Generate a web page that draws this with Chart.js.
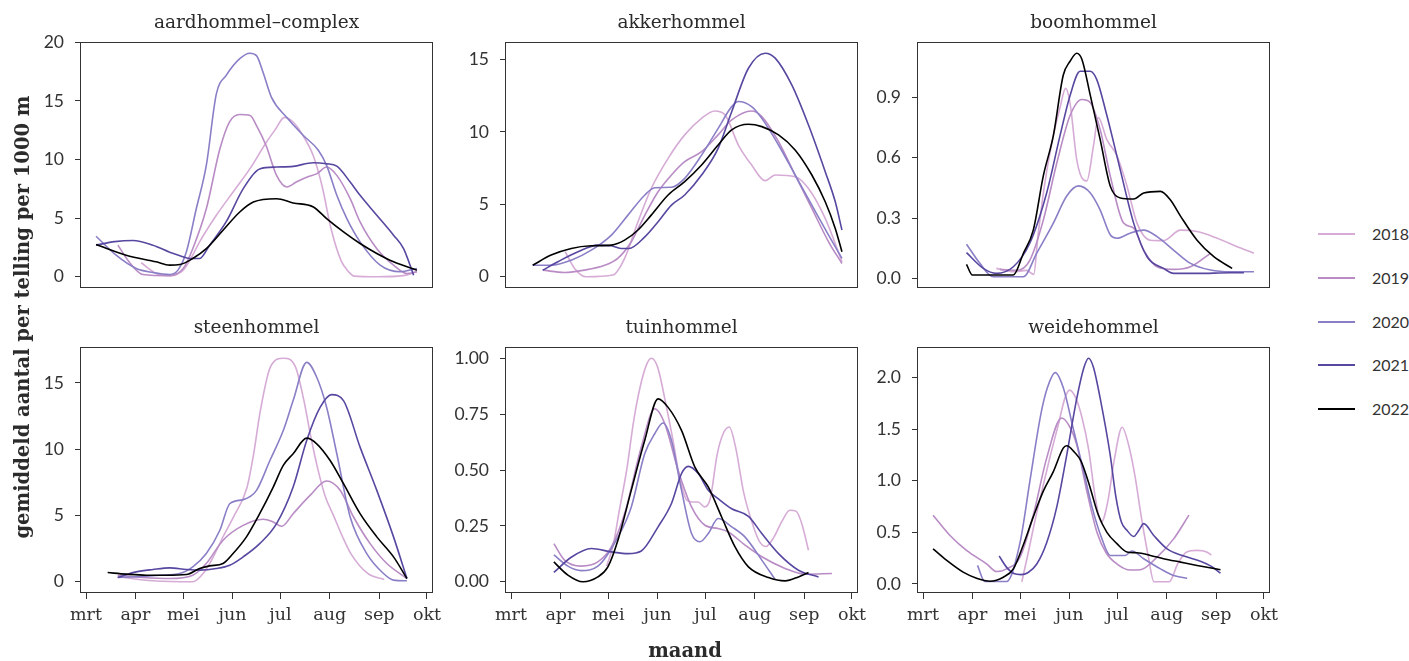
<!DOCTYPE html>
<html>
<head>
<meta charset="utf-8">
<title>hommels per maand</title>
<script src="https://cdn.jsdelivr.net/npm/chart.js@4.4.1/dist/chart.umd.min.js"></script>
<style>
  body { margin: 0; background: #fff; }
  #page { position: relative; width: 1409px; height: 661px; overflow: hidden; background: #fff; }
  #page canvas { position: absolute; }
  .ptitle { position: absolute; text-align: center; font-family: 'DejaVu Serif'; font-size: 18.5px; line-height: 22px; color: #2b2b2b; white-space: nowrap; }
  .axtitle { position: absolute; text-align: center; font-family: 'DejaVu Serif'; font-weight: bold; font-size: 19.5px; line-height: 24px; color: #2b2b2b; white-space: nowrap; }
  .legline { position: absolute; height: 0; border-top: 2px solid; width: 37px; }
  .legtext { position: absolute; font-family: 'Lato'; font-size: 16px; line-height: 18px; color: #333; }
</style>
</head>
<body>
<div id="page"></div>
<script>
// --- data (days counted from 1 March) ---
const years = ['2018', '2019', '2020', '2021', '2022'];
const species = ['aardhommel–complex', 'akkerhommel', 'boomhommel', 'steenhommel', 'tuinhommel', 'weidehommel'];
const monthLabels = ['mrt', 'apr', 'mei', 'jun', 'jul', 'aug', 'sep', 'okt'];
const monthDays = [0, 31, 61, 92, 122, 153, 184, 214];
const yTickLabels = [
    ['0', '5', '10', '15', '20'],
    ['0', '5', '10', '15'],
    ['0.0', '0.3', '0.6', '0.9'],
    ['0', '5', '10', '15'],
    ['0.00', '0.25', '0.50', '0.75', '1.00'],
    ['0.0', '0.5', '1.0', '1.5', '2.0']
];

// one list per year: [day, mean count]
const aardhommel = [
    [[34.6,1.2],[44,0.28],[52.5,0.1],[61,0.57],[66,1.6],[71.3,2.98],[81.8,5.25],[92.3,7.23],[102.8,9.2],[113.3,11.5],[119,12.6],[124.5,13.6],[130,13.2],[135,12.3],[142.7,10.3],[148.4,7.6],[153.6,4.2],[160,1.4],[165,0.4],[168.3,0.06],[182.5,0],[199,0.1],[207.7,0.43]],
    [[20,2.7],[27,1.28],[35.7,0.2],[52.5,0.1],[61,0.7],[67,2.4],[75.5,5.8],[84,10.9],[90,13.2],[96.5,13.84],[103,13.76],[107,12.9],[113,11.2],[119.6,8.65],[126,7.66],[132,8.08],[138.5,8.5],[145,8.8],[151,9.36],[157.4,8.65],[165.8,6.66],[172,4.68],[182.5,2.4],[193,1.0],[201.4,0.28],[207.7,0.43]],
    [[6.3,3.46],[18.9,1.84],[31.5,0.71],[42,0.37],[52.5,0.2],[57.7,0.57],[63,2.13],[69.2,5.8],[75.5,9.5],[81.8,15.6],[88.1,17.2],[96.5,18.6],[102.8,19.07],[107,18.86],[111.2,17.4],[116.4,15.3],[125.9,13.6],[136.4,12.05],[145.8,10.8],[151,9.5],[157.4,6.95],[163.7,4.96],[172,2.98],[184.6,1.0],[197.2,0.43],[207.7,0.71]],
    [[6.3,2.7],[18,3.0],[29.4,3.1],[42,2.7],[52.5,2.1],[59,1.8],[65,1.56],[71.3,1.56],[77.6,2.7],[88,4.7],[98.6,7.5],[109,9.2],[119.6,9.36],[130,9.42],[142.7,9.73],[151,9.64],[157.4,9.44],[165.8,8.08],[172,6.95],[182.5,5.25],[193,3.55],[199.3,2.4],[205.6,0.14]],
    [[6.3,2.75],[25.2,1.84],[44,1.28],[52.5,1.0],[59,1.05],[67,1.56],[75.5,2.4],[86,3.97],[96.5,5.53],[105,6.38],[119.6,6.66],[130,6.3],[142.7,5.96],[151,4.96],[161.6,3.83],[172,2.84],[182.5,1.99],[193,1.28],[207.7,0.57]]
];

const akkerhommel = [
    [[34,1.73],[39.9,0.58],[47.2,0],[64,0.12],[71.3,1.27],[79.7,3.8],[88,6.1],[98.6,8.18],[109,9.8],[119.6,10.94],[127.9,11.45],[134.3,11.18],[142.7,9.1],[151,7.72],[159.5,6.64],[165.8,7.03],[178.3,6.91],[186.7,6.1],[197.2,4.03],[207.7,1.04]],
    [[19.9,0.46],[33.6,0.3],[46,0.46],[58.8,0.8],[67,1.27],[75.5,2.42],[84,4.26],[92.3,5.87],[100.7,7.03],[109,7.95],[119.6,8.64],[130,9.8],[138.5,10.83],[151,11.45],[157.4,11.06],[167.9,9.33],[178.3,7.03],[188.8,4.72],[199.3,2.42],[207.7,0.92]],
    [[13.6,0.8],[25.2,0.8],[37.8,1.15],[50.4,1.84],[63,2.88],[73.4,4.26],[84,5.65],[90.2,6.15],[100.7,6.18],[109,6.8],[119.6,8.4],[130,10.25],[138.5,11.75],[142.7,12.1],[151,11.75],[157.4,10.94],[167.9,9.1],[178.3,7.03],[188.8,4.95],[199.3,2.88],[207.7,1.27]],
    [[19.9,0.46],[29.4,1.04],[42,1.73],[54.5,2.19],[63,2.14],[69,1.96],[74,1.96],[84,2.76],[92.3,3.8],[100.7,4.95],[109,5.65],[119.6,7.03],[130,8.87],[138.5,11.4],[149,14.4],[159.5,15.44],[165.8,15.1],[176.2,13.25],[186.7,10.48],[197.2,7.26],[203.5,5.18],[207.7,3.23]],
    [[13.6,0.8],[25.2,1.5],[37.8,1.96],[50.4,2.14],[63,2.19],[71.3,2.53],[79.7,3.23],[88,4.26],[98.6,5.65],[109,6.57],[119.6,7.72],[130,9.1],[138.5,10.14],[149,10.53],[157.4,10.37],[167.9,9.8],[178.3,8.76],[188.8,7.03],[197.2,5.18],[203.5,3.34],[207.7,1.73]]
];

const boomhommel = [
    [[46,0.05],[56.7,0.033],[65,0.04],[69.5,0.02],[72,0.2],[76,0.45],[81,0.68],[86,0.85],[89.5,0.945],[92.3,0.87],[96.5,0.59],[100.7,0.49],[102.8,0.485],[107,0.66],[110,0.8],[115.4,0.69],[121.7,0.61],[128,0.46],[134.3,0.275],[142.7,0.19],[151,0.188],[161.6,0.24],[172,0.233],[184.6,0.2],[197.2,0.158],[207.7,0.125]],
    [[48.3,0.045],[58.8,0.04],[67,0.09],[75.5,0.29],[84,0.575],[92.3,0.81],[99.7,0.89],[104.9,0.875],[111.2,0.74],[117.5,0.51],[125.9,0.275],[132.2,0.25],[138.5,0.14],[146.9,0.058],[157.4,0.045],[167.9,0.058],[180.4,0.125]],
    [[27.3,0.17],[35.7,0.075],[44,0.008],[63,0.008],[71.3,0.125],[81.8,0.275],[90.2,0.41],[97.6,0.46],[105,0.425],[111.2,0.34],[117.5,0.217],[121.7,0.2],[130,0.225],[138.5,0.24],[146.9,0.208],[157.4,0.14],[167.9,0.075],[180.4,0.042],[193,0.033],[207.7,0.033]],
    [[27.3,0.128],[37.8,0.05],[46,0.025],[56.7,0.058],[67,0.175],[77.6,0.425],[86,0.71],[92.3,0.91],[98.6,1.03],[104.9,1.03],[109,0.99],[115.4,0.81],[123.8,0.54],[132.2,0.275],[140.6,0.108],[151,0.05],[157.4,0.025],[172,0.025],[193,0.028],[201.4,0.028]],
    [[27.3,0.07],[31,0.017],[56.7,0.017],[63,0.125],[69.2,0.24],[75.5,0.51],[81.8,0.71],[88,1.01],[92.3,1.08],[96.5,1.12],[99.7,1.09],[105,0.91],[111.2,0.69],[117.5,0.46],[123.8,0.4],[132.2,0.395],[138.5,0.425],[149,0.433],[155.3,0.39],[161.6,0.31],[172,0.19],[182.5,0.108],[194,0.05]]
];

const steenhommel = [
    [[19.9,0.38],[42,0.08],[67,0],[74,0.7],[80,1.9],[86,3.4],[92.6,4.9],[101,7.1],[105,9.5],[109.4,12.9],[115.7,16.2],[124,16.87],[131.5,16.2],[136.7,13.7],[141,11],[145.2,8.65],[150,6.5],[155.7,4.9],[161,3.4],[166.2,2.13],[176.8,0.63],[187.2,0.18]],
    [[19.9,0.5],[35.7,0.33],[52.5,0.25],[67,0.5],[75.5,1.38],[86,3.14],[98.6,4.26],[111.2,4.72],[117.5,4.51],[122.8,4.19],[130,5.14],[140.6,6.52],[151,7.6],[159.5,6.9],[167.9,4.89],[178.3,2.88],[188.8,1.38],[201.4,0.25]],
    [[19.9,0.33],[31.5,0.38],[46,0.5],[58.8,0.63],[67,1.13],[75.5,2.13],[84,3.89],[90.2,5.89],[98.6,6.2],[107,6.9],[115.4,9.15],[123.8,11.41],[130,13.67],[138.5,16.55],[144.8,15.43],[151,13.17],[157.4,9.66],[165.8,4.89],[176.2,2.13],[186.7,0.63],[193,0.13],[201.4,0.08]],
    [[19.9,0.33],[31.5,0.75],[42,0.93],[52.5,1.05],[63,0.93],[71.3,0.88],[81.8,1.0],[90.2,1.25],[98.6,1.88],[109,2.88],[119.6,4.39],[130,7.15],[138.5,10.66],[147,13.17],[154.2,14.12],[161.6,13.67],[172,10.16],[182.5,6.9],[193,3.39],[201.4,0.25]],
    [[13.6,0.7],[25.2,0.58],[37.8,0.5],[50.4,0.5],[63,0.55],[71.3,1.0],[77.6,1.2],[86,1.38],[92.3,2.13],[100.7,3.39],[109,5.14],[117.5,7.15],[123.8,8.78],[130,9.66],[138.5,10.84],[144.8,10.41],[153.2,9.15],[161.6,7.4],[172,5.14],[182.5,3.39],[193,1.88],[201.4,0.25]]
];

const tuinhommel = [
    [[60,0.07],[64,0.16],[68,0.32],[72.6,0.5],[77,0.72],[81,0.87],[85,0.97],[88,1.0],[92,0.96],[97.6,0.78],[102,0.62],[106,0.46],[110.5,0.364],[114,0.357],[117.5,0.357],[121.5,0.335],[125,0.37],[129.4,0.57],[133,0.66],[137,0.692],[141,0.6],[146,0.4],[152,0.25],[156,0.18],[160,0.158],[165,0.2],[170,0.27],[175,0.32],[179,0.315],[182.5,0.26],[186.7,0.141]],
    [[26.9,0.171],[33.6,0.097],[44,0.07],[54.5,0.089],[63,0.156],[71.3,0.305],[81.8,0.603],[90.2,0.774],[96.5,0.707],[104.9,0.498],[113.3,0.335],[121.7,0.253],[130,0.238],[136.4,0.223],[146.9,0.164],[157.4,0.112],[172,0.06],[184.6,0.034],[201.4,0.037]],
    [[26.9,0.12],[35.7,0.07],[44,0.05],[54.5,0.07],[67.1,0.2],[75.5,0.335],[83.9,0.573],[90.2,0.662],[95.4,0.71],[100.7,0.632],[107,0.41],[113.3,0.216],[118.6,0.179],[123.8,0.216],[130,0.283],[138.5,0.246],[146.9,0.2],[157.4,0.097],[165.8,0.01]],
    [[26.9,0.042],[37.8,0.11],[50.4,0.149],[63,0.134],[73.4,0.126],[81.8,0.138],[92.3,0.246],[100.7,0.35],[107,0.484],[111.2,0.516],[117.5,0.484],[123.8,0.41],[130,0.372],[138.5,0.327],[149,0.293],[157.4,0.216],[167.9,0.126],[180.4,0.052],[193,0.022]],
    [[26.9,0.089],[35.7,0.03],[45.1,0.0],[54.5,0.022],[60.8,0.067],[67.1,0.186],[75.5,0.41],[83.9,0.632],[92.3,0.818],[98.6,0.78],[107,0.677],[115.4,0.513],[123.8,0.424],[132.2,0.29],[140.6,0.156],[149,0.067],[161.6,0.019],[172,0.004],[180.4,0.022],[186.7,0.042]]
];

const weidehommel = [
    [[62,0.02],[66,0.3],[70.5,0.63],[75.5,0.96],[80,1.25],[85,1.55],[89,1.8],[92,1.88],[96,1.8],[100,1.6],[104,1.3],[108,0.85],[112,0.6],[116,0.8],[120,1.2],[125,1.52],[129,1.35],[133,1.05],[137,0.65],[141,0.3],[145,0.02],[154.5,0.02],[160,0.2],[165.5,0.31],[172,0.325],[178,0.31],[181,0.28]],
    [[6.3,0.667],[16.8,0.472],[27.3,0.325],[39.9,0.195],[46.2,0.12],[52.5,0.146],[60.9,0.26],[69.2,0.667],[77.6,1.22],[87,1.61],[91.3,1.545],[96.5,1.35],[102.8,0.9],[109.1,0.504],[115,0.3],[122,0.19],[130,0.135],[136.4,0.137],[146.9,0.26],[157.4,0.439],[166.9,0.667]],
    [[34.2,0.179],[38.8,0.023],[52.5,0.023],[60.9,0.4],[67.1,1.0],[74,1.65],[78,1.9],[83,2.05],[88.1,1.9],[94.4,1.5],[100.7,1.1],[106,0.75],[112,0.45],[117.5,0.276],[126.9,0.276],[131.1,0.319],[138.5,0.244],[149,0.146],[157.4,0.081],[165.8,0.055]],
    [[47.8,0.27],[52.5,0.16],[57,0.1],[61.5,0.09],[66,0.11],[71.3,0.19],[77.6,0.4],[84,0.75],[90.2,1.25],[96.5,1.8],[101,2.1],[103.9,2.19],[107,2.1],[111.2,1.8],[117.5,1.25],[121,0.85],[124.5,0.6],[128,0.52],[132.2,0.46],[135.5,0.52],[138.5,0.585],[144.8,0.47],[153.2,0.34],[163.7,0.27],[174.1,0.22],[181,0.17],[186.7,0.104]],
    [[6.3,0.34],[14.7,0.23],[25.2,0.114],[33.6,0.055],[42,0.026],[50.4,0.065],[56.7,0.146],[63,0.38],[69.2,0.65],[75.5,0.9],[81.8,1.09],[88,1.317],[90.2,1.34],[94.9,1.28],[99.2,1.19],[104,0.98],[110,0.67],[115.4,0.5],[121.7,0.39],[128,0.309],[134.3,0.302],[142.7,0.276],[151,0.244],[161.6,0.211],[172,0.179],[186.7,0.137]]
];

const panelData = [aardhommel, akkerhommel, boomhommel, steenhommel, tuinhommel, weidehommel];
const yearColors = ['#d6acd6', '#b98cc5', '#8a7fc7', '#5847a0', '#000000'];

// --- layout ---
const BOX_W = 353, BOX_H = 246;
const colLeft = [80, 505, 917];
const rowTop = [42, 347];
const titleMid = [22, 327];
const AXIS_W = 70, XAXIS_H = 36;
const PAD_T = 12, PAD_R = 24, PAD_B = 6;

const page = document.getElementById('page');

// shared x range, ggplot-like 5% expansion
const allDays = panelData.flat(2).map(p => p[0]);
const dMin = Math.min(...allDays), dMax = Math.max(...allDays);
const xMin = dMin - (dMax - dMin) * 0.05;
const xMax = dMax + (dMax - dMin) * 0.05;

const panelBox = {
    id: 'panelBox',
    afterDatasetsDraw(chart) {
        const a = chart.chartArea;
        const ctx = chart.ctx;
        ctx.save();
        ctx.strokeStyle = '#333';
        ctx.lineWidth = 1;
        ctx.strokeRect(a.left + 0.5, a.top + 0.5, a.right - a.left - 1, a.bottom - a.top - 1);
        ctx.restore();
    }
};

function makePanel(i) {
    const series = panelData[i];
    const row = Math.floor(i / 3), col = i % 3;
    const bottomRow = row === 1;
    const vals = series.flat().map(p => p[1]);
    const lo = Math.min(...vals), hi = Math.max(...vals);
    const yPad = (hi - lo) * 0.05;
    const tickLabels = yTickLabels[i];

    const canvas = document.createElement('canvas');
    const w = AXIS_W + BOX_W + PAD_R;
    const h = PAD_T + BOX_H + (bottomRow ? XAXIS_H : 0) + PAD_B;
    canvas.width = w;
    canvas.height = h;
    canvas.style.width = w + 'px';
    canvas.style.height = h + 'px';
    canvas.style.left = (colLeft[col] - AXIS_W) + 'px';
    canvas.style.top = (rowTop[row] - PAD_T) + 'px';
    page.appendChild(canvas);

    new Chart(canvas, {
        type: 'line',
        data: {
            datasets: series.map((pts, k) => ({
                label: years[k],
                data: pts.map(p => ({ x: p[0], y: p[1] })),
                borderColor: yearColors[k],
                borderWidth: 1.6,
                pointRadius: 0,
                cubicInterpolationMode: 'monotone',
                fill: false,
                order: years.length - k
            }))
        },
        options: {
            responsive: false,
            animation: false,
            devicePixelRatio: 1,
            layout: { padding: { top: PAD_T, right: PAD_R, bottom: PAD_B, left: 0 } },
            plugins: { legend: { display: false }, tooltip: { enabled: false } },
            scales: {
                x: {
                    type: 'linear',
                    display: bottomRow,
                    min: xMin,
                    max: xMax,
                    bounds: 'data',
                    afterBuildTicks: s => { s.ticks = monthDays.map(v => ({ value: v })); },
                    afterFit: s => {
                        if (bottomRow) s.height = XAXIS_H;
                        s.paddingLeft = 0;
                        s.paddingRight = 0;
                    },
                    ticks: {
                        autoSkip: false,
                        maxRotation: 0,
                        padding: 6,
                        color: '#333',
                        font: { family: 'DejaVu Serif', size: 17.5 },
                        callback: (v, idx) => monthLabels[idx]
                    },
                    grid: { drawOnChartArea: false, drawTicks: true, tickLength: 6, color: '#333' },
                    border: { display: false }
                },
                y: {
                    type: 'linear',
                    min: lo - yPad,
                    max: hi + yPad,
                    bounds: 'data',
                    afterBuildTicks: s => { s.ticks = tickLabels.map(t => ({ value: parseFloat(t) })); },
                    afterFit: s => { s.width = AXIS_W; s.paddingTop = 0; s.paddingBottom = 0; },
                    ticks: {
                        autoSkip: false,
                        padding: 11,
                        color: '#333',
                        font: { family: 'Lato', size: 17.5 },
                        callback: (v, idx) => tickLabels[idx]
                    },
                    grid: { drawOnChartArea: false, drawTicks: true, tickLength: 5, color: '#333' },
                    border: { display: false }
                }
            }
        },
        plugins: [panelBox]
    });

    const t = document.createElement('div');
    t.className = 'ptitle';
    t.textContent = species[i];
    t.style.left = colLeft[col] + 'px';
    t.style.width = BOX_W + 'px';
    t.style.top = (titleMid[row] - 11) + 'px';
    page.appendChild(t);
}

for (let i = 0; i < panelData.length; i++) makePanel(i);

// axis titles
const yTitle = document.createElement('div');
yTitle.className = 'axtitle';
yTitle.textContent = 'gemiddeld aantal per telling per 1000 m';
yTitle.style.width = '600px';
yTitle.style.left = (23 - 300) + 'px';
yTitle.style.top = (317 - 12) + 'px';
yTitle.style.transform = 'rotate(-90deg)';
page.appendChild(yTitle);

const xTitle = document.createElement('div');
xTitle.className = 'axtitle';
xTitle.textContent = 'maand';
xTitle.style.width = '200px';
xTitle.style.left = (685 - 100) + 'px';
xTitle.style.top = (651 - 12) + 'px';
page.appendChild(xTitle);

// legend
years.forEach((yr, k) => {
    const cy = 234 + k * 43.75;
    const ln = document.createElement('div');
    ln.className = 'legline';
    ln.style.borderTopColor = yearColors[k];
    ln.style.left = '1318px';
    ln.style.top = (cy - 1) + 'px';
    page.appendChild(ln);
    const tx = document.createElement('div');
    tx.className = 'legtext';
    tx.textContent = yr;
    tx.style.left = '1372px';
    tx.style.top = (cy - 9) + 'px';
    page.appendChild(tx);
});
</script>
</body>
</html>
